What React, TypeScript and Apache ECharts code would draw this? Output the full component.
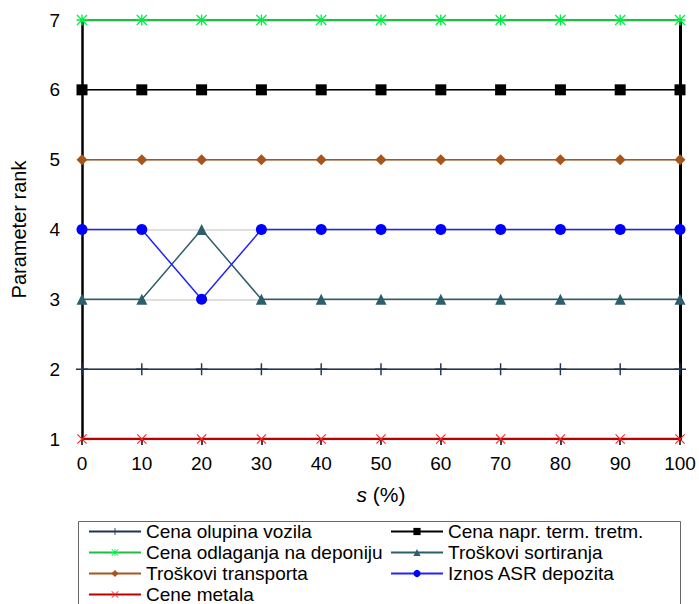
import React, { useEffect, useRef } from "react";
import * as echarts from "echarts";

const xValues = [0, 10, 20, 30, 40, 50, 60, 70, 80, 90, 100];
const seriesNames = [
  "Cena olupina vozila",
  "Cena napr. term. tretm.",
  "Cena odlaganja na deponiju",
  "Troškovi sortiranja",
  "Troškovi transporta",
  "Iznos ASR depozita",
  "Cene metala",
];
const olupina = [2, 2, 2, 2, 2, 2, 2, 2, 2, 2, 2];
const termTretm = [6, 6, 6, 6, 6, 6, 6, 6, 6, 6, 6];
const odlaganje = [7, 7, 7, 7, 7, 7, 7, 7, 7, 7, 7];
const sortiranje = [3, 3, 4, 3, 3, 3, 3, 3, 3, 3, 3];
const transport = [5, 5, 5, 5, 5, 5, 5, 5, 5, 5, 5];
const asrDepozit = [4, 4, 3, 4, 4, 4, 4, 4, 4, 4, 4];
const metali = [1, 1, 1, 1, 1, 1, 1, 1, 1, 1, 1];
const yTicks = [1, 2, 3, 4, 5, 6, 7];

const PLUS = "path://M4.4,0L5.6,0L5.6,10L4.4,10ZM0,4.4L10,4.4L10,5.6L0,5.6Z";
const STAR =
  "path://M4.4,0L5.6,0L5.6,10L4.4,10ZM0,4.4L10,4.4L10,5.6L0,5.6ZM0,0.8L0.8,0L10,9.2L9.2,10ZM9.2,0L10,0.8L0.8,10L0,9.2Z";
const CROSS = "path://M0,0.8L0.8,0L10,9.2L9.2,10ZM9.2,0L10,0.8L0.8,10L0,9.2Z";

const FONT = "'Liberation Sans', Arial, sans-serif";

// legend placement: [series index, column, row]
const legendSlots: [number, number, number][] = [
  [0, 0, 0],
  [1, 1, 0],
  [2, 0, 1],
  [3, 1, 1],
  [4, 0, 2],
  [5, 1, 2],
  [6, 0, 3],
];

export default function App() {
  const ref = useRef<HTMLDivElement>(null);
  useEffect(() => {
    if (!ref.current) return;
    const chart = echarts.init(ref.current, undefined, { renderer: "svg" });
    const pts = (vals: number[]) => xValues.map((x, i) => [x, vals[i]]);
    const mk = (
      name: string,
      vals: number[],
      lineColor: string,
      markColor: string,
      symbol: string,
      size: number,
      width: number
    ) => ({
      name,
      type: "line",
      data: pts(vals),
      symbol,
      symbolSize: size,
      lineStyle: { color: lineColor, width },
      itemStyle: { color: markColor, borderWidth: 0 },
      emphasis: { disabled: true },
    });
    const colLeft = [88, 390];
    const rowTop = [522, 543, 564, 585];
    chart.setOption({
      animation: false,
      textStyle: { fontFamily: FONT },
      grid: { left: 82, right: 19, top: 20, bottom: 165, containLabel: false },
      xAxis: {
        type: "value",
        min: 0,
        max: 100,
        interval: 10,
        name: "{i|s} (%)",
        nameLocation: "middle",
        nameGap: 45,
        nameTextStyle: {
          fontSize: 21,
          color: "#000",
          fontFamily: FONT,
          rich: { i: { fontStyle: "italic", fontSize: 21, fontFamily: FONT, color: "#000" } },
        },
        axisLine: { show: true, lineStyle: { color: "#000", width: 2 } },
        axisTick: { show: true, length: 6, lineStyle: { color: "#000", width: 1.5 } },
        axisLabel: { fontSize: 19, color: "#000", margin: 15, fontFamily: FONT },
        splitLine: { show: false },
      },
      yAxis: [
        {
          type: "value",
          min: 1,
          max: 7,
          interval: 1,
          name: "Parameter rank",
          nameLocation: "middle",
          nameGap: 53,
          nameTextStyle: { fontSize: 20, color: "#000", fontFamily: FONT },
          axisLine: { show: true, lineStyle: { color: "#000", width: 2.5 } },
          axisTick: { show: false },
          axisLabel: {
            fontSize: 19,
            color: "#000",
            margin: 22,
            fontFamily: FONT,
            formatter: (v: number) => (yTicks.includes(v) ? String(v) : ""),
          },
          splitLine: { show: true, lineStyle: { color: "#d4d4d4", width: 1.5 } },
        },
        {
          type: "value",
          position: "right",
          min: 1,
          max: 7,
          interval: 1,
          axisLine: { show: true, lineStyle: { color: "#000", width: 3 } },
          axisTick: { show: false },
          axisLabel: { show: false },
          splitLine: { show: false },
        },
      ],
      legend: legendSlots.map(([si, col, row]) => ({
        data: [seriesNames[si]],
        orient: "horizontal",
        left: colLeft[col],
        top: rowTop[row],
        padding: 0,
        itemWidth: 52,
        itemHeight: 9,
        itemTextGap: 5,
        textStyle: { fontSize: 19, color: "#000", fontFamily: FONT, lineHeight: 18 },
        selectedMode: false,
      })),
      graphic: [
        {
          type: "rect",
          shape: { x: 78.5, y: 521.5, width: 602, height: 100 },
          style: { fill: "none", stroke: "#666", lineWidth: 1 },
          silent: true,
        },
      ],
      series: [
        mk(seriesNames[0], olupina, "#203452", "#203452", PLUS, 12, 1.5),
        mk(seriesNames[1], termTretm, "#000000", "#000000", "rect", 11, 1.5),
        mk(seriesNames[3], sortiranje, "#2d5e6c", "#2d5e6c", "triangle", 11, 1.5),
        mk(seriesNames[4], transport, "#a6561c", "#a6561c", "diamond", 11, 1.5),
        mk(seriesNames[5], asrDepozit, "#2222ff", "#0000ff", "circle", 11, 1.5),
        mk(seriesNames[2], odlaganje, "#22bb44", "#00ee44", STAR, 11, 2.5),
        mk(seriesNames[6], metali, "#bb0000", "#ff2222", CROSS, 10, 2.5),
      ],
    });
    return () => chart.dispose();
  }, []);
  return (
    <div
      ref={ref}
      style={{ position: "fixed", left: 0, top: 0, width: 699, height: 604, background: "#fff" }}
    />
  );
}
